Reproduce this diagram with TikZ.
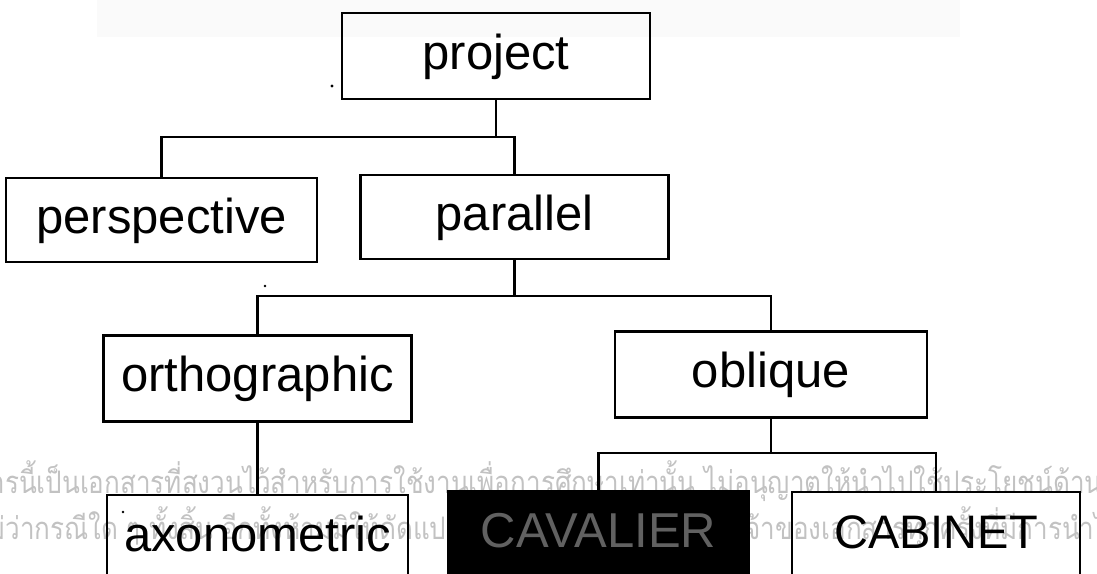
\documentclass[tikz,border=0pt]{standalone}
\usepackage{fontspec}
\setmainfont{Liberation Sans}
\newfontfamily\thaifont[Script=Thai]{Loma}
\usetikzlibrary{positioning}

\tikzset{
  term/.style={draw=black, line width=2.6pt, inner sep=0pt,
    minimum width=308pt, minimum height=86pt, text height=36pt, text depth=10pt,
    font=\fontsize{49}{55}\selectfont},
  termdark/.style={term, fill=black, text=black!62},
  wmtext/.style={anchor=base west, inner sep=0pt, text=black!24,
    font=\thaifont\fontsize{31}{34}\selectfont},
  link/.style={line width=2.6pt, line cap=rect}
}
\newcommand{\squeeze}[1]{\scalebox{0.84}[1]{#1}}

\begin{document}
\begin{tikzpicture}[x=1pt, y=-1pt]
		% Page window, same size as the scan
		\useasboundingbox (0,0) rectangle (1097,573);
		
		% Faint band at the top of the scan
		\fill[black!2] (97,0) rectangle (960,37);
		
		% Watermark (shows through the open boxes)
		\node[wmtext] (wm1) at (-66,493)
		{\squeeze{เอกสารนี้เป็นเอกสารที่สงวนไว้สำหรับการใช้งานเพื่อการศึกษาเท่านั้น ไม่อนุญาตให้นำไปใช้ประโยชน์ด้านอื่น}};
		\node[wmtext] (wm2) at (-25,539)
		{\squeeze{ไม่ว่ากรณีใด ๆ ทั้งสิ้น อีกทั้งห้ามมิให้ดัดแปลง}};
		\node[wmtext] (wm3) at (573,539)
		{\squeeze{และต้องอ้างอิงเจ้าของเอกสารทุกครั้งที่มีการนำไปใช้}};
		
		% Boxes of the tree
		\node[term] (project) at (496,56) {project};
		\node[term, minimum width=311pt, minimum height=84pt] (perspective) at (161.5,220) {perspective};
		\node[term, minimum height=84pt] (parallel) at (514.5,217) {parallel};
		\node[term] (orthographic) at (257.5,378.5) {orthographic};
		\node[term, minimum width=312pt] (oblique) at (771,374.5) {oblique};
		\node[term, minimum width=301pt] (axonometric) at (257.5,538) {axonometric};
		\node[termdark, minimum width=301pt] (cavalier) at (598.5,534) {CAVALIER};
		\node[term, minimum width=288pt, font=\fontsize{47}{55}\selectfont] (cabinet) at (936,535) {CABINET};
		
		% Branch points
		\coordinate (bus1) at (496,137);
		\coordinate (bus2) at (514.5,296);
		\coordinate (bus3) at (771,453);
		
		% Connectors
		\draw[link] (project.south) -- (bus1);
		\draw[link] (perspective.north) |- (bus1) -| (parallel.north);
		\draw[link] (parallel.south) -- (bus2);
		\draw[link] (orthographic.north) |- (bus2) -| (oblique.north);
		\draw[link] (orthographic.south) -- (axonometric.north);
		\draw[link] (oblique.south) -- (bus3);
		\draw[link] (cavalier.north) |- (bus3) -| (cabinet.north);
		
		% Specks from the scan
		\fill (332,86) circle (1.6);
		\fill (265,286) circle (1.3);
		\fill (123,512) circle (1.3);
	\end{tikzpicture}
\end{document}
